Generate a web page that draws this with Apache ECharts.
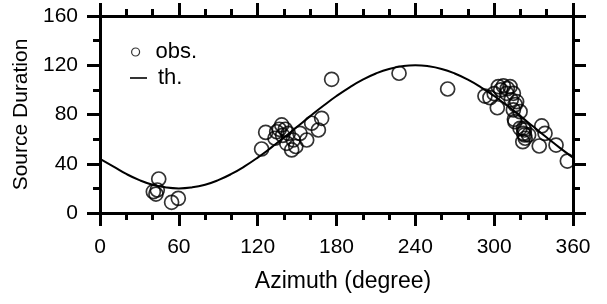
<!DOCTYPE html>
<html>
<head>
<meta charset="utf-8">
<script src="https://cdn.jsdelivr.net/npm/echarts@6/dist/echarts.min.js"></script>
<style>html,body{margin:0;padding:0;background:#fff}#c{width:607px;height:304px}</style>
</head>
<body>
<div id="c"></div>
<script>
// Observed source durations: [azimuth (deg), duration]
const obsPoints = [
  [40.6,17.3],[42.6,15.4],[43.6,18.7],[44.7,27.6],[54.5,8.7],[59.6,11.9],
  [123,52],[126.1,65.5],[133.2,60.7],[134.5,66],[136.5,68],[138.3,71.5],[139,63],[141,68],
  [142.1,56.6],[143.3,64.7],[145.9,51.2],[147.1,59.3],[149,54],[152.2,64.7],[157.3,59.3],
  [161.1,72.9],[166.2,67.4],[168.7,76.9],
  [176.3,108.6],[227.6,113.5],[264.6,100.7],
  [293,95],[296.8,93.7],[300,97],[302.4,85.5],[303.2,102.6],[305,100],[307,103.2],
  [309.5,97.2],[310,101],[312.1,102.6],[313,92],[314.6,97.2],[317.1,90.4],[314.6,83.7],
  [316,88],[319.7,82.3],[315.4,76.1],[315.8,74.2],[319.7,68.8],[322.3,68.8],[323.1,67.4],
  [322.3,64.7],[323.1,63.4],[326.2,63.4],[321.8,57.9],[323.6,60.7],[334.3,54.4],
  [336.2,70.7],[338.7,64.7],[347.1,55.2],[355.7,42.2]
];
// Theoretical curve
const thAzimuth = [0,10,20,30,40,50,60,70,80,90,100,110,120,130,140,150,160,170,180,190,200,210,220,230,240,250,260,270,280,290,300,310,320,330,340,350,360];
const thDuration = [44,37.9,31.7,26.7,23.0,20.8,20,20.8,23.0,26.7,31.7,37.9,45,52.9,61.3,70,78.7,87.1,95,102.1,108.3,113.3,117.0,119.2,120,119.2,117.0,113.3,108.3,102.1,95,87.1,78.7,70,61.3,52.9,45];
const xTicks = {min:0, max:360, interval:60};
const yTicks = {min:0, max:160, interval:40};
const xTitle = 'Azimuth (degree)';
const yTitle = 'Source Duration';
const legendNames = ['obs.', 'th.'];

const FONT = 'Liberation Sans, Arial, sans-serif';
const FS = 21;
const chart = echarts.init(document.getElementById('c'), null, {renderer:'canvas'});
const axisCommon = (show) => ({
  axisLine:{show:true, onZero:false, lineStyle:{color:'#000', width:3}},
  axisTick:{show:true, inside:false, length:13, lineStyle:{color:'#000', width:3}},
  minorTick:{show:true, length:7, lineStyle:{color:'#000', width:3}},
  splitLine:{show:false},
  axisLabel:{show:show, color:'#000', fontSize:FS, fontFamily:FONT},
});
const thData = thAzimuth.map((a,i)=>[a, thDuration[i]]);
chart.setOption({
  animation:false,
  backgroundColor:'#fff',
  grid:{left:100, right:34, top:16, bottom:91, containLabel:false, outerBoundsMode:'none'},
  legend:[
    {data:[{name:legendNames[0], icon:'circle'}], orient:'vertical', left:131, top:41, padding:0,
     itemWidth:30, itemHeight:8, textStyle:{fontSize:22, fontFamily:FONT, color:'#000'},
     itemStyle:{color:'rgba(0,0,0,0)', borderColor:'#000', borderWidth:1.2}},
    {data:[{name:legendNames[1], icon:'rect'}], orient:'vertical', left:130, top:67, padding:0,
     itemWidth:17, itemHeight:1.6, itemStyle:{color:'#000', borderWidth:0},
     textStyle:{fontSize:22, fontFamily:FONT, color:'#000', padding:[0,0,0,6]}}
  ],
  xAxis:[
    Object.assign({type:'value', position:'bottom', min:xTicks.min, max:xTicks.max, interval:xTicks.interval,
      name:xTitle, nameLocation:'middle', nameGap:57,
      nameTextStyle:{fontSize:23, fontFamily:FONT, color:'#000', padding:[0,0,0,13]}}, axisCommon(true),
      {axisLabel:{show:true, color:'#000', fontSize:FS, fontFamily:FONT, margin:24}, minorTick:{show:true, splitNumber:3, length:7, lineStyle:{color:'#000', width:3}}}),
    Object.assign({type:'value', position:'top', min:xTicks.min, max:xTicks.max, interval:xTicks.interval}, axisCommon(false),
      {minorTick:{show:true, splitNumber:3, length:7, lineStyle:{color:'#000', width:3}}})
  ],
  yAxis:[
    Object.assign({type:'value', position:'left', min:yTicks.min, max:yTicks.max, interval:yTicks.interval,
      name:yTitle, nameLocation:'middle', nameGap:63,
      nameTextStyle:{fontSize:21, fontFamily:FONT, color:'#000'}}, axisCommon(true),
      {axisLabel:{show:true, color:'#000', fontSize:FS, fontFamily:FONT, margin:22}, minorTick:{show:true, splitNumber:2, length:7, lineStyle:{color:'#000', width:3}}}),
    Object.assign({type:'value', position:'right', min:yTicks.min, max:yTicks.max, interval:yTicks.interval}, axisCommon(false),
      {minorTick:{show:true, splitNumber:2, length:7, lineStyle:{color:'#000', width:3}}})
  ],
  series:[
    {name:legendNames[0], type:'scatter', data:obsPoints, symbol:'circle', symbolSize:14,
     itemStyle:{color:'rgba(0,0,0,0)', borderColor:'#000', borderWidth:1.7}, z:2},
    {name:legendNames[1], type:'line', data:thData, smooth:true, symbol:'none', showSymbol:false,
     lineStyle:{color:'#000', width:2}, itemStyle:{color:'#000'}, z:3}
  ]
});
</script>
</body>
</html>
